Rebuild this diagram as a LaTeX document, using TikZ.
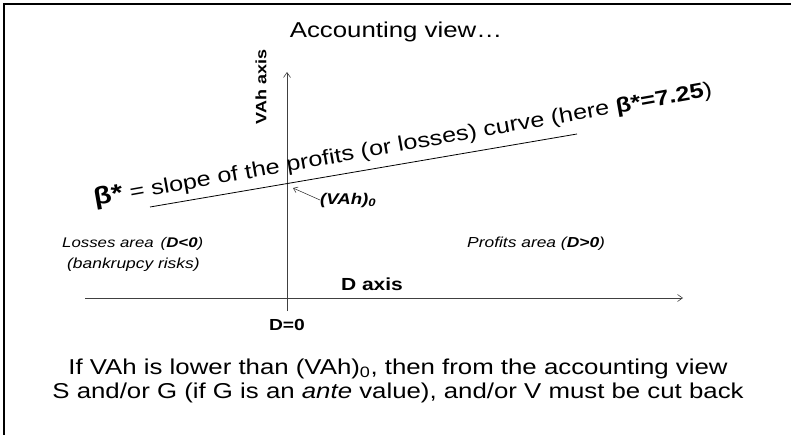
\documentclass[tikz,border=0pt]{standalone}
\usepackage{fontspec}
\setmainfont{Liberation Sans}[FakeStretch=1.2]
\usetikzlibrary{arrows.meta}
\tikzset{
  ax/.style={draw=black!75, line width=0.6pt, -{Straight Barb[length=5pt,width=7pt]}},
  lbl/.style={inner sep=0pt, font=\fontsize{14}{16}\selectfont},
  big/.style={inner sep=0pt, font=\fontsize{20}{24}\selectfont}
}
\begin{document}
\begin{tikzpicture}[x=1pt,y=-1pt]
\useasboundingbox (0,0) rectangle (791,435);
\draw[line width=2.5pt] (4,440) -- (4,4) -- (800,4);
\node[big, font=\fontsize{21.5}{24}\selectfont] (title) at (396,32) {Accounting view…};
\coordinate (vb) at (287,311);
\coordinate (vt) at (287,72);
\coordinate (hl) at (85,298);
\coordinate (hr) at (683,298);
\draw[ax] (vb) -- (vt);
\draw[ax] (hl) -- (hr);
\node[lbl, rotate=90, font=\bfseries\fontsize{15}{16}\selectfont] (vah) at (261,87) {VAh axis};
\node[lbl, font=\bfseries\fontsize{17.5}{18}\selectfont] (dax) at (372,284) {D axis};
\node[lbl, font=\bfseries\fontsize{16}{18}\selectfont] (d0) at (287,325) {D=0};
\coordinate (sl) at (150,207);
\coordinate (sr) at (577,134);
\draw[line width=0.8pt] (sl) -- (sr);
\node[inner sep=0pt, anchor=base west, rotate=10.1, font=\fontsize{21}{24}\selectfont] (slope) at (95,206)
  {\textbf{\fontsize{24.5}{24}\selectfont β*} = slope of the profits (or losses) curve (here \textbf{β*=7.25})};
\node[lbl, anchor=west, font=\bfseries\itshape\fontsize{15.5}{16}\selectfont] (v0) at (320,200) {(VAh)\textsubscript{0}};
\coordinate (v0tip) at (293,188);
\draw[draw=black!75, line width=0.6pt, -{Straight Barb[length=4pt,width=6pt]}] (v0.west) -- (v0tip);
\node[lbl, anchor=west, font=\itshape\fontsize{14}{16}\selectfont] (loss) at (62,244) {Losses area\, (\textbf{D<0})};
\node[lbl, anchor=west, font=\itshape\fontsize{14.5}{16}\selectfont] (bank) at (67,265) {(bankrupcy risks)};
\node[lbl, anchor=west, font=\itshape\fontsize{14.5}{16}\selectfont] (prof) at (467,244) {Profits area (\textbf{D>0})};
\node[big, align=center, font=\fontsize{21.5}{24}\selectfont] (note) at (398,381)
  {If VAh is lower than (VAh)\textsubscript{0}, then from the accounting view\\
   S and/or G (if G is an \textit{ante} value), and/or V must be cut back};
\end{tikzpicture}
\end{document}
